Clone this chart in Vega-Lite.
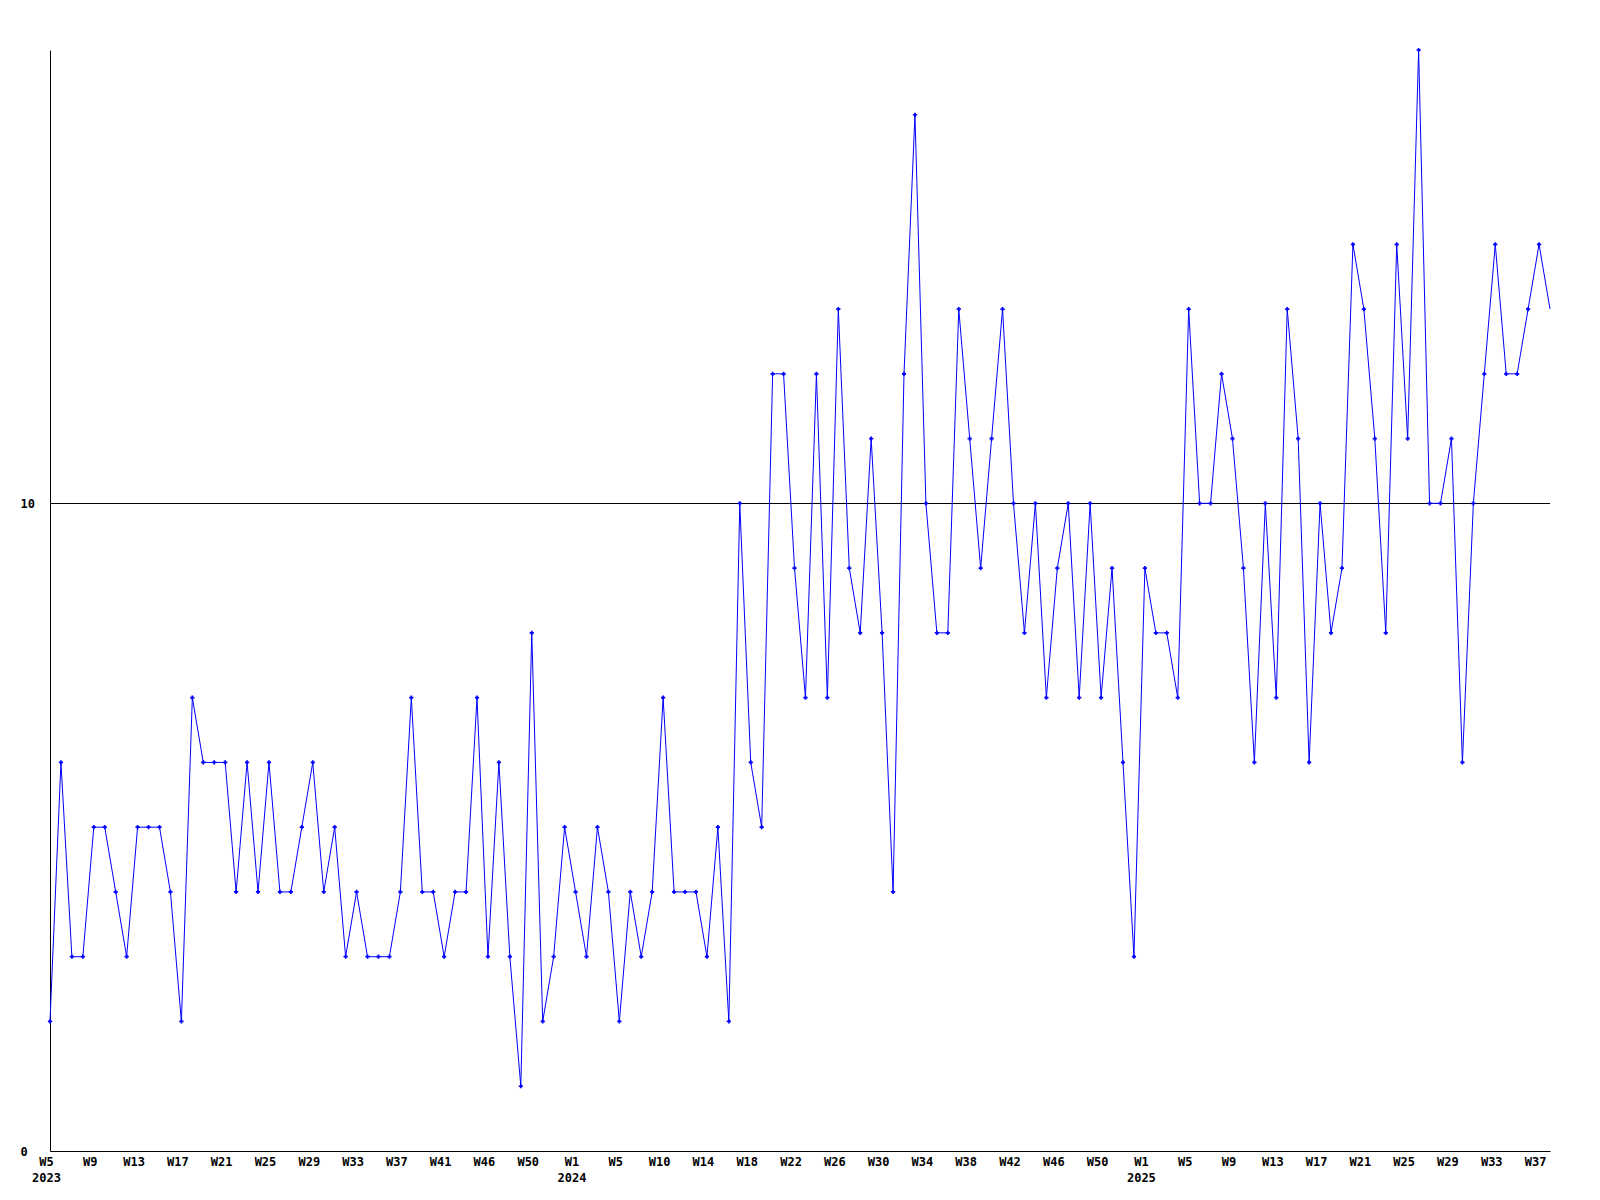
{
  "$schema": "https://vega.github.io/schema/vega-lite/v6.json",
  "width": 1500,
  "height": 1101,
  "autosize": {"type": "none"},
  "padding": {"left": 50, "top": 50, "right": 50, "bottom": 49},
  "background": "white",
  "config": {"view": {"stroke": null}, "font": "DejaVu Sans Mono"},
  "data": {
    "values": [
      {"i": 0, "v": 2}, {"i": 1, "v": 6}, {"i": 2, "v": 3}, {"i": 3, "v": 3}, {"i": 4, "v": 5},
      {"i": 5, "v": 5}, {"i": 6, "v": 4}, {"i": 7, "v": 3}, {"i": 8, "v": 5}, {"i": 9, "v": 5},
      {"i": 10, "v": 5}, {"i": 11, "v": 4}, {"i": 12, "v": 2}, {"i": 13, "v": 7}, {"i": 14, "v": 6},
      {"i": 15, "v": 6}, {"i": 16, "v": 6}, {"i": 17, "v": 4}, {"i": 18, "v": 6}, {"i": 19, "v": 4},
      {"i": 20, "v": 6}, {"i": 21, "v": 4}, {"i": 22, "v": 4}, {"i": 23, "v": 5}, {"i": 24, "v": 6},
      {"i": 25, "v": 4}, {"i": 26, "v": 5}, {"i": 27, "v": 3}, {"i": 28, "v": 4}, {"i": 29, "v": 3},
      {"i": 30, "v": 3}, {"i": 31, "v": 3}, {"i": 32, "v": 4}, {"i": 33, "v": 7}, {"i": 34, "v": 4},
      {"i": 35, "v": 4}, {"i": 36, "v": 3}, {"i": 37, "v": 4}, {"i": 38, "v": 4}, {"i": 39, "v": 7},
      {"i": 40, "v": 3}, {"i": 41, "v": 6}, {"i": 42, "v": 3}, {"i": 43, "v": 1}, {"i": 44, "v": 8},
      {"i": 45, "v": 2}, {"i": 46, "v": 3}, {"i": 47, "v": 5}, {"i": 48, "v": 4}, {"i": 49, "v": 3},
      {"i": 50, "v": 5}, {"i": 51, "v": 4}, {"i": 52, "v": 2}, {"i": 53, "v": 4}, {"i": 54, "v": 3},
      {"i": 55, "v": 4}, {"i": 56, "v": 7}, {"i": 57, "v": 4}, {"i": 58, "v": 4}, {"i": 59, "v": 4},
      {"i": 60, "v": 3}, {"i": 61, "v": 5}, {"i": 62, "v": 2}, {"i": 63, "v": 10}, {"i": 64, "v": 6},
      {"i": 65, "v": 5}, {"i": 66, "v": 12}, {"i": 67, "v": 12}, {"i": 68, "v": 9}, {"i": 69, "v": 7},
      {"i": 70, "v": 12}, {"i": 71, "v": 7}, {"i": 72, "v": 13}, {"i": 73, "v": 9}, {"i": 74, "v": 8},
      {"i": 75, "v": 11}, {"i": 76, "v": 8}, {"i": 77, "v": 4}, {"i": 78, "v": 12}, {"i": 79, "v": 16},
      {"i": 80, "v": 10}, {"i": 81, "v": 8}, {"i": 82, "v": 8}, {"i": 83, "v": 13}, {"i": 84, "v": 11},
      {"i": 85, "v": 9}, {"i": 86, "v": 11}, {"i": 87, "v": 13}, {"i": 88, "v": 10}, {"i": 89, "v": 8},
      {"i": 90, "v": 10}, {"i": 91, "v": 7}, {"i": 92, "v": 9}, {"i": 93, "v": 10}, {"i": 94, "v": 7},
      {"i": 95, "v": 10}, {"i": 96, "v": 7}, {"i": 97, "v": 9}, {"i": 98, "v": 6}, {"i": 99, "v": 3},
      {"i": 100, "v": 9}, {"i": 101, "v": 8}, {"i": 102, "v": 8}, {"i": 103, "v": 7}, {"i": 104, "v": 13},
      {"i": 105, "v": 10}, {"i": 106, "v": 10}, {"i": 107, "v": 12}, {"i": 108, "v": 11}, {"i": 109, "v": 9},
      {"i": 110, "v": 6}, {"i": 111, "v": 10}, {"i": 112, "v": 7}, {"i": 113, "v": 13}, {"i": 114, "v": 11},
      {"i": 115, "v": 6}, {"i": 116, "v": 10}, {"i": 117, "v": 8}, {"i": 118, "v": 9}, {"i": 119, "v": 14},
      {"i": 120, "v": 13}, {"i": 121, "v": 11}, {"i": 122, "v": 8}, {"i": 123, "v": 14}, {"i": 124, "v": 11},
      {"i": 125, "v": 17}, {"i": 126, "v": 10}, {"i": 127, "v": 10}, {"i": 128, "v": 11}, {"i": 129, "v": 6},
      {"i": 130, "v": 10}, {"i": 131, "v": 12}, {"i": 132, "v": 14}, {"i": 133, "v": 12}, {"i": 134, "v": 12},
      {"i": 135, "v": 13}, {"i": 136, "v": 14}, {"i": 137, "v": 13}
    ]
  },
  "encoding": {
    "x": {
      "field": "i",
      "type": "quantitative",
      "scale": {"domain": [0, 137], "nice": false, "zero": false},
      "axis": {
        "values": [0, 4, 8, 12, 16, 20, 24, 28, 32, 36, 40, 44, 48, 52, 56, 60, 64, 68, 72, 76, 80, 84, 88, 92, 96, 100, 104, 108, 112, 116, 120, 124, 128, 132, 136],
        "labelExpr": "[['W5','2023'],'W9','W13','W17','W21','W25','W29','W33','W37','W41','W46','W50',['W1','2024'],'W5','W10','W14','W18','W22','W26','W30','W34','W38','W42','W46','W50',['W1','2025'],'W5','W9','W13','W17','W21','W25','W29','W33','W37'][round(datum.value/4)]",
        "title": null,
        "grid": false,
        "ticks": false,
        "tickSize": 0,
        "domain": true,
        "domainColor": "black",
        "domainWidth": 1,
        "labelFont": "DejaVu Sans Mono",
        "labelFontSize": 12,
        "labelFontWeight": "bold",
        "labelColor": "black",
        "labelPadding": 5,
        "labelOffset": -4,
        "labelLineHeight": 16,
        "labelBaseline": "top",
        "labelAlign": "center",
        "labelOverlap": false,
        "labelBound": false,
        "labelFlush": false
      }
    },
    "y": {
      "field": "v",
      "type": "quantitative",
      "scale": {"domain": [0, 17], "nice": false, "zero": true},
      "axis": {
        "values": [0, 10],
        "title": null,
        "grid": false,
        "ticks": false,
        "tickSize": 0,
        "domain": true,
        "domainColor": "black",
        "domainWidth": 1,
        "labelFont": "DejaVu Sans Mono",
        "labelFontSize": 12,
        "labelFontWeight": "bold",
        "labelColor": "black",
        "labelAlign": "left",
        "labelBaseline": "middle",
        "labelPadding": 30
      }
    }
  },
  "layer": [
    {
      "mark": {"type": "rule", "color": "black", "strokeWidth": 1, "yOffset": 0.15},
      "encoding": {"y": {"datum": 10}, "x": null}
    },
    {
      "mark": {"type": "line", "color": "#0000ff", "strokeWidth": 1}
    },
    {
      "transform": [{"filter": "datum.i < 137"}],
      "mark": {"type": "point", "shape": "cross", "filled": true, "color": "#0000ff", "size": 18, "opacity": 1}
    }
  ]
}
